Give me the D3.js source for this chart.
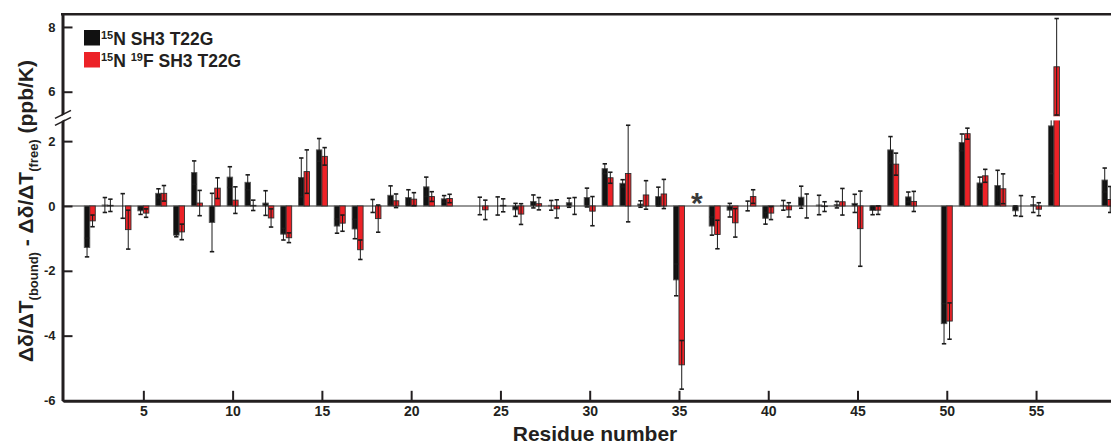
<!DOCTYPE html>
<html>
<head>
<meta charset="utf-8">
<script src="https://cdn.jsdelivr.net/npm/d3@7"></script>
<style>
  html, body { margin: 0; padding: 0; background: #fff; }
  svg { display: block; }
  text { font-family: "Liberation Sans", Arial, Helvetica, sans-serif; font-weight: bold; fill: #231f20; }
</style>
</head>
<body>
<svg id="chart" width="1111" height="443"></svg>
<script>
// Residues 1..59
const residues = d3.range(1, 60);

// 15N SH3 T22G (ppb/K)
const blackValues = [
  0, -1.28, 0.03, 0.0, -0.15, 0.39, -0.90, 1.03, -0.51, 0.89,
  0.73, 0.09, -0.87, 0.88, 1.73, -0.62, -0.71, 0.0, 0.33, 0.26,
  0.59, 0.22, 0, 0.0, 0.0, -0.12, 0.14, 0.02, 0.10, 0.26,
  1.15, 0.70, 0.06, 0.29, -2.28, 0, -0.62, -0.13, 0.0, -0.38,
  0.02, 0.27, 0.03, 0.04, 0.08, -0.14, 1.73, 0.28, 0, -3.63,
  1.96, 0.71, 0.63, -0.15, 0.04, 2.47, 0, 0, 0.80
];
const blackErrors = [
  0, 0.29, 0.23, 0.38, 0.11, 0.14, 0.05, 0.36, 0.90, 0.32,
  0.23, 0.38, 0.18, 0.60, 0.35, 0.22, 0.30, 0.20, 0.29, 0.24,
  0.30, 0.10, 0, 0.27, 0.28, 0.20, 0.20, 0.15, 0.14, 0.29,
  0.15, 0.11, 0.10, 0.29, 0.49, 0, 0.28, 0.21, 0.15, 0.18,
  0.15, 0.34, 0.30, 0.10, 0.28, 0.13, 0.41, 0.15, 0, 0.62,
  0.26, 0.18, 0.47, 0.15, 0.24, 1.47, 0, 0, 0.37
];

// 15N 19F SH3 T22G (ppb/K)
const redValues = [
  0, -0.46, 0.02, -0.73, -0.22, 0.39, -0.80, 0.09, 0.55, 0.18,
  0.02, -0.37, -0.98, 1.06, 1.53, -0.53, -1.35, -0.39, 0.16, 0.21,
  0.29, 0.23, 0, -0.12, 0.02, -0.25, 0.07, -0.09, 0.0, -0.16,
  0.87, 1.00, 0.34, 0.37, -4.90, 0, -0.88, -0.52, 0.29, -0.22,
  -0.12, 0.0, -0.02, 0.13, -0.70, -0.13, 1.29, 0.14, 0, -3.55,
  2.23, 0.93, 0.53, 0.0, -0.10, 6.77, 0, 0, 0.20
];
const redErrors = [
  0, 0.18, 0.19, 0.60, 0.13, 0.24, 0.24, 0.39, 0.32, 0.41,
  0.16, 0.28, 0.15, 0.67, 0.27, 0.25, 0.30, 0.42, 0.21, 0.20,
  0.15, 0.13, 0, 0.30, 0.20, 0.32, 0.19, 0.28, 0.26, 0.45,
  0.17, 1.49, 0.44, 0.45, 0.75, 0, 0.44, 0.44, 0.21, 0.20,
  0.22, 0.37, 0.15, 0.41, 1.16, 0.13, 0.34, 0.31, 0, 0.56,
  0.17, 0.20, 0.46, 0.32, 0.20, 1.49, 0, 0, 0.40
];

// Residues flagged with an asterisk
const starredResidues = [36];

const xTicks = [5, 10, 15, 20, 25, 30, 35, 40, 45, 50, 55];
const yTicks = [-6, -4, -2, 0, 2, 6, 8];

const seriesNames = ["15N SH3 T22G", "15N 19F SH3 T22G"];

const svg = d3.select("#chart");
const ink = "#231f20";

// x: residue number
const x = d3.scaleLinear().domain([0.5, 59.5]).range([63, 1116.4]);

// y: broken axis, the span 2.63 .. 5.25 is collapsed into a narrow gap
const breakLo = 2.63, breakHi = 5.25;
const y = d3.scaleLinear()
  .domain([-6, breakLo, breakHi, 8.4])
  .range([400.5, 120.7, 116, 14]);

const barW = 5.5;
const series = [
  { name: seriesNames[0], values: blackValues, errors: blackErrors, fill: "#111111", stroke: "#5a5a5a", dx: -barW },
  { name: seriesNames[1], values: redValues, errors: redErrors, fill: "#ec2227", stroke: "#2e2e2e", dx: 0 }
];

// zero line
svg.append("line")
  .attr("x1", x.range()[0]).attr("x2", 1111)
  .attr("y1", y(0)).attr("y2", y(0))
  .attr("stroke", "#737373").attr("stroke-width", 1.6);

// bars
series.forEach(s => {
  const rows = residues.map((r, i) => ({ r, v: s.values[i], e: s.errors[i] }));
  const g = svg.append("g");
  g.selectAll("rect").data(rows).join("rect")
    .attr("x", d => x(d.r) + s.dx)
    .attr("width", barW)
    .attr("y", d => Math.min(y(d.v), y(0)))
    .attr("height", d => Math.abs(y(d.v) - y(0)))
    .attr("fill", s.fill)
    .attr("stroke", s.stroke)
    .attr("stroke-width", 0.9);

  // error bars
  const eg = svg.append("g").attr("stroke", "#1a1a1a").attr("stroke-width", 1);
  const withErr = rows.filter(d => d.e > 0);
  eg.selectAll("line.v").data(withErr).join("line").attr("class", "v")
    .attr("x1", d => x(d.r) + s.dx + barW / 2).attr("x2", d => x(d.r) + s.dx + barW / 2)
    .attr("y1", d => y(d.v - d.e)).attr("y2", d => y(d.v + d.e));
  ["lo", "hi"].forEach(k => {
    eg.selectAll("line." + k).data(withErr).join("line").attr("class", k)
      .attr("x1", d => x(d.r) + s.dx + barW / 2 - 2.2)
      .attr("x2", d => x(d.r) + s.dx + barW / 2 + 2.2)
      .attr("y1", d => y(k === "lo" ? d.v - d.e : d.v + d.e))
      .attr("y2", d => y(k === "lo" ? d.v - d.e : d.v + d.e))
      .attr("stroke-width", 1.6);
  });
});

// gap of the broken axis, cut through the marks
svg.append("rect")
  .attr("x", 64).attr("width", 1111 - 64)
  .attr("y", y(breakHi) + 0.3).attr("height", y(breakLo) - y(breakHi) - 0.6)
  .attr("fill", "#fff");

// asterisks
svg.append("g").selectAll("text").data(starredResidues).join("text")
  .attr("x", d => x(d)).attr("y", y(0) + 7)
  .attr("text-anchor", "middle")
  .attr("font-size", 30).style("fill", "#3a3a3a")
  .text("*");

// axes
const yAxis = d3.axisLeft(y).tickValues(yTicks).tickFormat(d => String(d))
  .tickSizeInner(-10).tickSizeOuter(0).tickPadding(7);
const gy = svg.append("g").attr("transform", "translate(62.5,0)").call(yAxis);
gy.select(".domain").attr("stroke", ink).attr("stroke-width", 3);
gy.selectAll(".tick line").attr("stroke", ink).attr("stroke-width", 2);
gy.selectAll(".tick text").attr("font-size", 13).attr("font-family", null).style("fill", ink);

const xAxis = d3.axisBottom(x).tickValues(xTicks).tickFormat(d => String(d))
  .tickSizeInner(-10).tickSizeOuter(0).tickPadding(5);
const gx = svg.append("g").attr("transform", "translate(0,400.8)").call(xAxis);
gx.select(".domain").attr("stroke", ink).attr("stroke-width", 3);
gx.selectAll(".tick line").attr("stroke", ink).attr("stroke-width", 2);
gx.selectAll(".tick text").attr("font-size", 14).attr("font-family", null).style("fill", ink);

// top frame
svg.append("line")
  .attr("x1", 61).attr("x2", 1111).attr("y1", 14.3).attr("y2", 14.3)
  .attr("stroke", ink).attr("stroke-width", 2.6);

// axis break marks
const by = (y(breakLo) + y(breakHi)) / 2;
svg.append("polygon")
  .attr("points", `56,${by + 1} 70,${by - 7} 70,${by - 2} 56,${by + 6}`)
  .attr("fill", "#fff");
[-3.5, 3.5].forEach(o => {
  svg.append("line")
    .attr("x1", 55).attr("y1", by + 3.5 + o)
    .attr("x2", 71).attr("y2", by - 4.5 + o)
    .attr("stroke", ink).attr("stroke-width", 1.6);
});

// axis titles
svg.append("text")
  .attr("x", 595).attr("y", 440.5)
  .attr("text-anchor", "middle")
  .attr("font-size", 21)
  .text("Residue number");

const yt = svg.append("text")
  .attr("transform", "translate(33,211) rotate(-90)")
  .attr("text-anchor", "middle")
  .attr("font-size", 21);
yt.append("tspan").text("\u0394\u03b4/\u0394T");
yt.append("tspan").attr("font-size", 13).attr("dy", 5).text("(bound)");
yt.append("tspan").attr("dy", -5).text(" - \u0394\u03b4/\u0394T");
yt.append("tspan").attr("font-size", 13).attr("dy", 5).text("(free)");
yt.append("tspan").attr("dy", -5).text(" (ppb/K)");

// legend
const legend = svg.append("g");
const legendRows = [
  { fill: series[0].fill, y: 30, parts: [["15", true], ["N SH3 T22G", false]] },
  { fill: series[1].fill, y: 52, parts: [["15", true], ["N ", false], ["19", true], ["F SH3 T22G", false]] }
];
legendRows.forEach(row => {
  legend.append("rect")
    .attr("x", 84).attr("y", row.y).attr("width", 16).attr("height", 15.5)
    .attr("fill", row.fill);
  const t = legend.append("text")
    .attr("x", 101).attr("y", row.y + 15)
    .attr("font-size", 17.5);
  let raised = false;
  row.parts.forEach(([str, sup]) => {
    const sp = t.append("tspan").text(str);
    if (sup && !raised) { sp.attr("font-size", 11).attr("dy", -6); raised = true; }
    else if (!sup && raised) { sp.attr("dy", 6); raised = false; }
  });
});
</script>
</body>
</html>
